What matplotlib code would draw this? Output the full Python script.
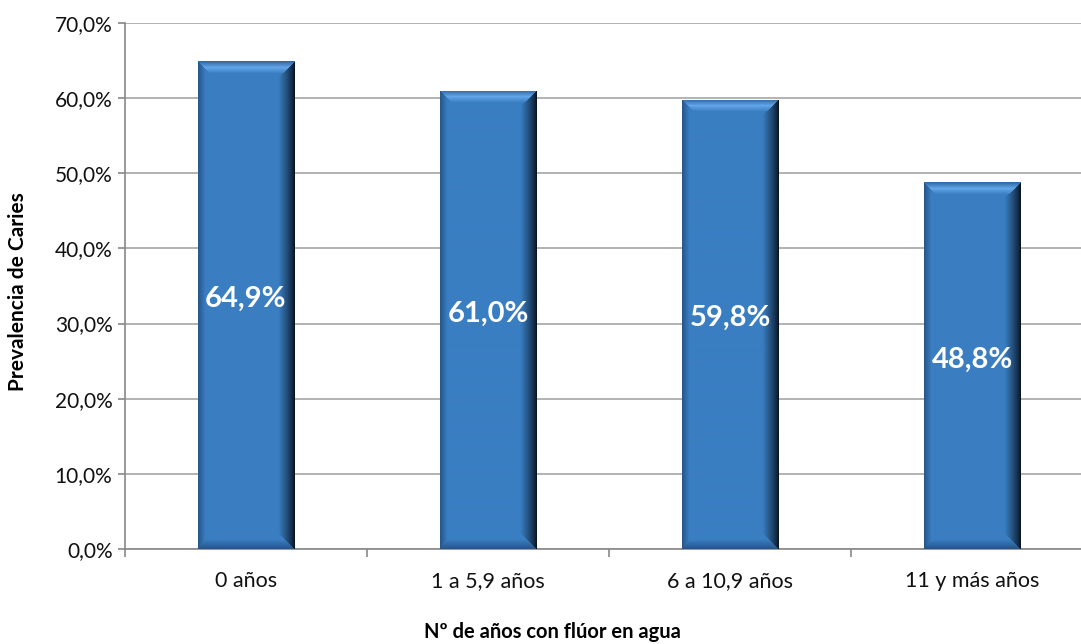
import numpy as np
import matplotlib.pyplot as plt
from matplotlib.ticker import FuncFormatter, MultipleLocator

plt.rcParams['font.family'] = ['Lato', 'DejaVu Sans']

categorias = ['0 años', '1 a 5,9 años', '6 a 10,9 años', '11 y más años']
prevalencia = [64.9, 61.0, 59.8, 48.8]
etiquetas = ['64,9%', '61,0%', '59,8%', '48,8%']

base = np.array([58, 126, 194]) / 255.0


def sombreado(nx, ny):
    # imagen RGB con biselado: arriba claro, derecha oscura, abajo y
    # izquierda algo más oscuros
    img = np.tile(base, (ny, nx, 1))
    j, i = np.mgrid[0:ny, 0:nx]
    dl = i.astype(float)
    dr = (nx - 1 - i).astype(float)
    dt = j.astype(float)
    db = (ny - 1 - j).astype(float)
    b = 12.0

    def mezcla(mask, c0, t):
        t = np.clip(t, 0, 1)[..., None]
        c0 = np.array(c0) / 255.0
        img[mask] = (c0 * (1 - t) + base * t)[mask]

    # izquierda
    m = (dl < 7) & (dl <= dt) & (dl <= db)
    mezcla(m, (38, 88, 140), dl / 7)
    # abajo
    m = (db < 9) & (db <= dl) & (db <= dr)
    mezcla(m, (40, 85, 135), db / 9)
    # derecha
    m = (dr < 16) & (dr <= dt) & (dr <= db)
    mezcla(m, (8, 20, 36), (dr / 16) ** 0.8)
    # arriba
    m = (dt < b) & (dt <= dl) & (dt <= dr)
    tt = dt / b
    top = np.where(tt < 0.5, tt / 0.5, 1.0)
    col_a = np.array([48, 105, 165]) / 255.0
    col_b = np.array([98, 165, 232]) / 255.0
    fila = np.where(tt[..., None] < 0.5,
                    col_a * (1 - top[..., None]) + col_b * top[..., None],
                    col_b * (1 - (tt[..., None] - 0.5) / 0.5) + base * ((tt[..., None] - 0.5) / 0.5))
    img[m] = fila[m]
    return img


fig = plt.figure(figsize=(10.81, 6.44), dpi=100)
ax = fig.add_axes([125 / 1081, 1 - 549 / 644, (1093 - 125) / 1081, (549 - 23) / 644])

x = np.arange(len(categorias))
ax.set_xlim(-0.5, len(categorias) - 0.5)
ax.set_ylim(0, 70)

barras = ax.bar(x, prevalencia, width=0.4, color='none', zorder=3)
fig.canvas.draw()
for rect in barras:
    x0, y0 = rect.get_x(), rect.get_y()
    w, h = rect.get_width(), rect.get_height()
    p0 = ax.transData.transform((x0, y0))
    p1 = ax.transData.transform((x0 + w, y0 + h))
    nx = int(round(p1[0] - p0[0]))
    ny = int(round(p1[1] - p0[1]))
    im = ax.imshow(sombreado(nx, ny), extent=(x0, x0 + w, y0, y0 + h),
                   aspect='auto', interpolation='bilinear', zorder=3)
    im.set_clip_path(rect)

for xi, v, t in zip(x, prevalencia, etiquetas):
    ax.text(xi, v / 2 + 0.8, t, ha='center', va='center', color='white',
            fontsize=21, fontweight='bold', zorder=4)

ax.set_aspect('auto')
ax.yaxis.set_major_locator(MultipleLocator(10))
ax.yaxis.set_major_formatter(FuncFormatter(lambda v, p: f'{v:.1f}%'.replace('.', ',')))
ax.grid(axis='y', color='#A6A6A6', linewidth=1.2, zorder=0)
ax.set_axisbelow(True)

ax.set_xticks(np.arange(-0.5, len(categorias)), minor=False)
ax.set_xticklabels([])
ax.set_xticks(x, minor=True)
ax.set_xticklabels(categorias, minor=True)
ax.tick_params(axis='x', which='major', length=6, color='#888888', width=1.2)
ax.tick_params(axis='x', which='minor', length=0, labelsize=15.5, pad=16, labelcolor='#111111')
ax.tick_params(axis='y', length=5, color='#888888', width=1.2, labelsize=15, labelcolor='#111111', pad=4)

for s in ['top', 'right']:
    ax.spines[s].set_visible(False)
ax.spines['left'].set_color('#888888')
ax.spines['bottom'].set_color('#888888')
ax.spines['left'].set_linewidth(1.2)
ax.spines['bottom'].set_linewidth(1.2)

ax.set_ylabel('Prevalencia de Caries', fontsize=15, fontweight='bold', va='center')
ax.set_xlabel('Nº de años con flúor en agua', fontsize=14.5, fontweight='bold', va='center')
ax.yaxis.set_label_coords(-0.1105, 0.49)
ax.xaxis.set_label_coords(0.442, -0.158)

fig.savefig('out.png', dpi=100)
